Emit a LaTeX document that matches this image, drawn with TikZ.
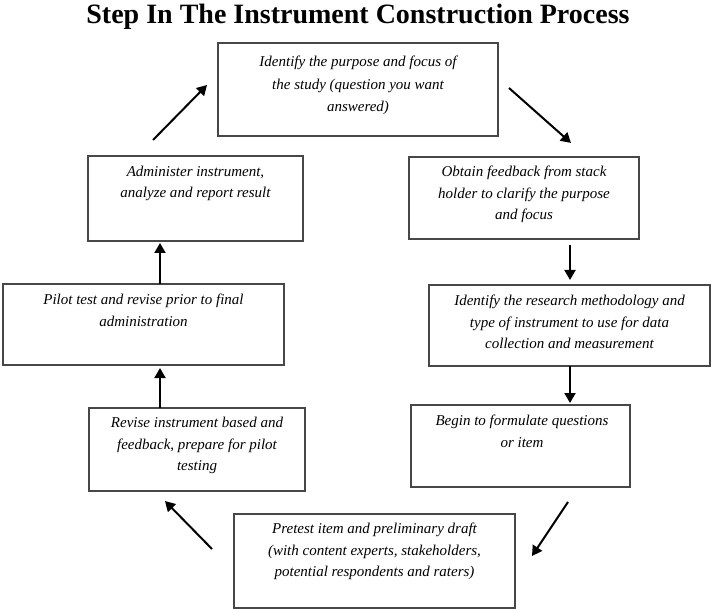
\documentclass[tikz,border=0pt]{standalone}
\usepackage{fontspec}
\setmainfont{Liberation Serif}
\usetikzlibrary{arrows.meta}
\begin{document}
\begin{tikzpicture}[x=1pt,y=-1pt,
  stepbox/.style={draw=black!72,line width=1.4pt,fill=white,inner sep=0pt,outer sep=0pt},
  txt/.style={anchor=north,inner sep=0pt,align=center,
    font=\fontsize{15}{21.5}\selectfont\itshape},
  flow/.style={draw=black,line width=2pt,-{Triangle[length=10pt,width=11pt]}}]
\useasboundingbox[fill=white] (0,0) rectangle (711,609);

% title
\node[anchor=base,inner sep=0pt,font=\fontsize{28}{30}\selectfont\bfseries] (title) at (358,24)
  {Step In The Instrument Construction Process};

% process boxes
\node[stepbox,minimum width=280pt,minimum height=93pt] (b1) at (358,89.5) {};
\node[stepbox,minimum width=230pt,minimum height=82pt] (b2) at (524,198) {};
\node[stepbox,minimum width=281pt,minimum height=81pt] (b3) at (569.5,325.5) {};
\node[stepbox,minimum width=219pt,minimum height=82pt] (b4) at (520.5,446) {};
\node[stepbox,minimum width=281pt,minimum height=94pt] (b5) at (374.5,561) {};
\node[stepbox,minimum width=216pt,minimum height=83pt] (b6) at (197,449.5) {};
\node[stepbox,minimum width=281pt,minimum height=81pt] (b7) at (143.5,324.5) {};
\node[stepbox,minimum width=215pt,minimum height=85pt] (b8) at (195.5,198.5) {};

% box texts
\node[txt,font=\fontsize{15}{22.5}\selectfont\itshape] (t1) at ([yshift=-13pt]b1.north)
  {Identify the purpose and focus of\\the study (question you want\\answered)};
\node[txt] (t2) at ([yshift=-9pt]b2.north)
  {Obtain feedback from stack\\holder to clarify the purpose\\and focus};
\node[txt] (t3) at ([yshift=-10pt]b3.north)
  {Identify the research methodology and\\type of instrument to use for data\\collection and measurement};
\node[txt] (t4) at ([xshift=1.5pt,yshift=-10pt]b4.north)
  {Begin to formulate questions\\or item};
\node[txt] (t5) at ([yshift=-9pt]b5.north)
  {Pretest item and preliminary draft\\(with content experts, stakeholders,\\potential respondents and raters)};
\node[txt] (t6) at ([yshift=-9pt]b6.north)
  {Revise instrument based and\\feedback, prepare for pilot\\testing};
\node[txt] (t7) at ([yshift=-10pt]b7.north)
  {Pilot test and revise prior to final\\administration};
\node[txt,font=\fontsize{15}{20.5}\selectfont\itshape] (t8) at ([yshift=-10pt]b8.north)
  {Administer instrument,\\analyze and report result};

% connectors around the cycle
\draw[flow] ([xshift=11pt,yshift=1.5pt]b1.east) -- ([xshift=47pt,yshift=14pt]b2.north);
\draw[flow] ([xshift=46pt,yshift=-6pt]b2.south) -- ([xshift=0.5pt,yshift=5pt]b3.north);
\draw[flow] ([xshift=0.5pt]b3.south) -- ([xshift=49.5pt,yshift=2pt]b4.north);
\draw[flow] ([xshift=47.5pt,yshift=-15pt]b4.south) -- ([xshift=17pt,yshift=5pt]b5.east);
\draw[flow] ([xshift=-22pt,yshift=12pt]b5.west) -- ([xshift=-32pt,yshift=-10pt]b6.south);
\draw[flow] ([xshift=-37pt]b6.north) -- ([xshift=16.5pt,yshift=-3pt]b7.south);
\draw[flow] ([xshift=16.5pt]b7.north) -- ([xshift=-35.5pt,yshift=-2pt]b8.south);
\draw[flow] ([xshift=-42.5pt,yshift=16pt]b8.north) -- ([xshift=-11pt,yshift=4.5pt]b1.west);
\end{tikzpicture}
\end{document}
